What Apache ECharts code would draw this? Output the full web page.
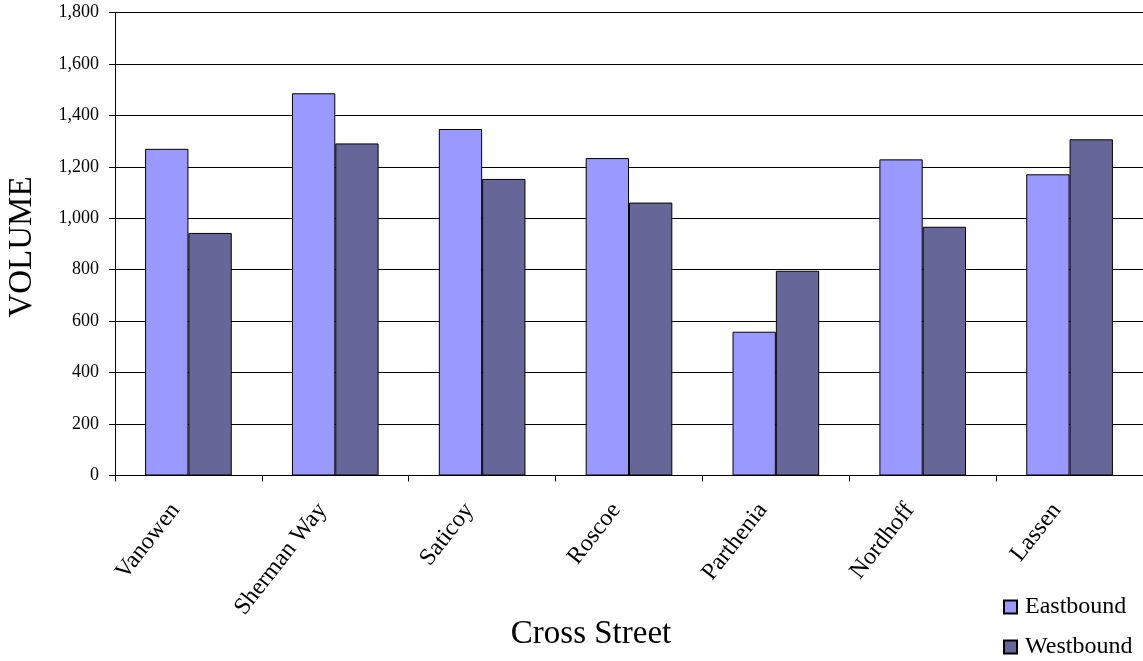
<!DOCTYPE html>
<html>
<head>
<meta charset="utf-8">
<script src="https://cdn.jsdelivr.net/npm/echarts@6/dist/echarts.min.js"></script>
<style>html,body{margin:0;padding:0;background:#fff;}#c{width:1143px;height:661px;}</style>
</head>
<body>
<div id="c"></div>
<script>
const categories = ['Vanowen', 'Sherman Way', 'Saticoy', 'Roscoe', 'Parthenia', 'Nordhoff', 'Lassen'];
const eastbound = [1270, 1486, 1347, 1234, 559, 1229, 1171];
const westbound = [943, 1291, 1153, 1061, 796, 967, 1307];
const yTicks = [0, 200, 400, 600, 800, 1000, 1200, 1400, 1600, 1800];

const FONT = '"Liberation Serif", "DejaVu Serif", serif';
const chart = echarts.init(document.getElementById('c'));
chart.setOption({
  animation: false,
  backgroundColor: '#fff',
  textStyle: { fontFamily: FONT, color: '#000' },
  grid: { left: 115, right: 0, top: 12.5, bottom: 185.5, containLabel: false },
  graphic: [{
    type: 'text', x: 22, y: 247, rotation: Math.PI / 2,
    style: { text: 'VOLUME', fontFamily: FONT, fontSize: 33, fill: '#000', textAlign: 'center', textVerticalAlign: 'middle' }
  }, {
    type: 'text', x: 591, y: 634,
    style: { text: 'Cross Street', fontFamily: FONT, fontSize: 33, fill: '#000', textAlign: 'center', textVerticalAlign: 'middle' }
  }],
  legend: {
    orient: 'vertical', left: 1003, top: 595, height: 66, itemWidth: 13, itemHeight: 13, itemGap: 16,
    icon: 'rect', padding: 0,
    textStyle: { fontFamily: FONT, fontSize: 24, color: '#000', padding: [0, 0, 0, 3] },
    data: ['Eastbound', 'Westbound']
  },
  xAxis: {
    type: 'category', data: categories,
    axisLine: { lineStyle: { color: '#000', width: 1 } },
    axisTick: { show: true, length: 6, inside: false, lineStyle: { color: '#000' } },
    axisLabel: { rotate: 52, fontFamily: FONT, fontSize: 24, color: '#000', margin: 14, padding: [0, 21, 0, 0], interval: 0 }
  },
  yAxis: {
    type: 'value', min: yTicks[0], max: yTicks[yTicks.length - 1], interval: 200,
    axisLine: { show: true, lineStyle: { color: '#000', width: 1 } },
    axisTick: { show: true, length: 6, lineStyle: { color: '#000' } },
    splitLine: { show: true, lineStyle: { color: '#000', width: 1 } },
    axisLabel: {
      fontFamily: FONT, fontSize: 18, color: '#000', margin: 16,
      formatter: v => v.toLocaleString('en-US')
    }
  },
  series: [
    {
      name: 'Eastbound', type: 'bar', data: eastbound,
      barGap: '0%', barCategoryGap: '41%',
      itemStyle: { color: '#9999FF', borderColor: '#000', borderWidth: 1 }
    },
    {
      name: 'Westbound', type: 'bar', data: westbound,
      barGap: '0%', barCategoryGap: '41%',
      itemStyle: { color: '#666699', borderColor: '#000', borderWidth: 1 }
    }
  ]
});
</script>
</body>
</html>
